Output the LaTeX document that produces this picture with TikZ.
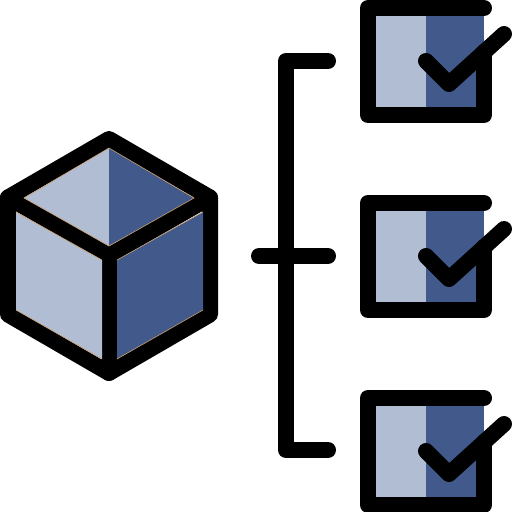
\documentclass[tikz,border=0pt]{standalone}
\definecolor{facelight}{HTML}{B1BDD3}
\definecolor{facedark}{HTML}{425A8B}
\definecolor{seam}{HTML}{C89A6A}
\tikzset{kontur/.style={black,line width=16mm,line cap=round,line join=round},
  naht/.style={seam,line width=0.6mm}}
\begin{document}
\begin{tikzpicture}[x=1mm,y=-1mm]
\useasboundingbox (0,0) rectangle (512,512);
% cube
\draw[kontur] (109,139) -- (210,197.5) -- (210,314.5) -- (109,373) -- (8,314.5) -- (8,197.5) -- cycle;
\draw[kontur] (8,197.5) -- (109,255.5) -- (210,197.5);
\draw[kontur] (109,255.5) -- (109,373);
\fill[facelight] (16,212) -- (102,260) -- (102,359) -- (16,310) -- cycle;
\fill[facedark] (117,260) -- (203,212) -- (203,310) -- (117,359) -- cycle;
\fill[facelight] (109,148) -- (24,198) -- (109,246) -- cycle;
\fill[facedark] (109,148) -- (194,198) -- (109,246) -- cycle;
\draw[naht] (16,212) -- (102,260);\draw[naht] (16,310) -- (102,359);
\draw[naht] (117,260) -- (203,212);\draw[naht] (117,359) -- (203,310);
\draw[naht] (109,148) -- (194,198) -- (109,246) -- (24,198) -- cycle;
% bracket
\draw[kontur] (328,61) -- (286,61) -- (286,450) -- (328,450);
\draw[kontur] (259,256) -- (328,256);
% check boxes
\foreach \oben in {0,195,390}{
  \fill[facelight] (376,16+\oben) rectangle (426,107+\oben);
  \fill[facedark] (426,16+\oben) rectangle (484,107+\oben);
  \draw[kontur] (484,8+\oben) -- (368,8+\oben) -- (368,115+\oben) -- (484,115+\oben) -- (484,52+\oben);
  \draw[kontur] (426,61+\oben) -- (449,84+\oben) -- (504,34+\oben);
}
\end{tikzpicture}
\end{document}
